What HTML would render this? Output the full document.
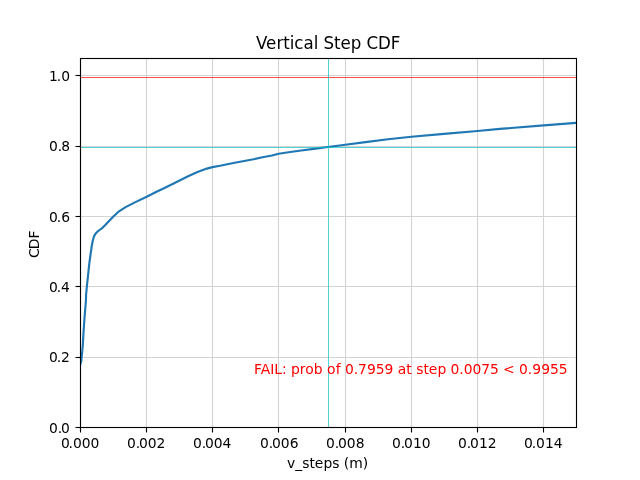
<!DOCTYPE html>
<html lang="en"><head><meta charset="utf-8"><title>Vertical Step CDF</title>
<style>html,body{margin:0;padding:0;background:#fff;width:640px;height:480px;overflow:hidden}svg{display:block;will-change:transform}text{font-family:'DejaVu Sans','Liberation Sans',sans-serif;font-size:13.8889px;fill:#000;white-space:pre}</style></head><body>
<svg width="640" height="480" viewBox="0 0 640 480">
<rect x="0" y="0" width="640" height="480" fill="#ffffff"/>
<defs><clipPath id="ax"><rect x="80.00" y="57.60" width="496.00" height="369.60"/></clipPath></defs>
<g stroke="#d3d3d3" stroke-width="1.111" fill="none">
<line x1="80.5" y1="58.0" x2="80.5" y2="427.0"/>
<line x1="146.5" y1="58.0" x2="146.5" y2="427.0"/>
<line x1="212.5" y1="58.0" x2="212.5" y2="427.0"/>
<line x1="278.5" y1="58.0" x2="278.5" y2="427.0"/>
<line x1="345.5" y1="58.0" x2="345.5" y2="427.0"/>
<line x1="411.5" y1="58.0" x2="411.5" y2="427.0"/>
<line x1="477.5" y1="58.0" x2="477.5" y2="427.0"/>
<line x1="543.5" y1="58.0" x2="543.5" y2="427.0"/>
<line x1="80.0" y1="427.5" x2="577.0" y2="427.5"/>
<line x1="80.0" y1="357.5" x2="577.0" y2="357.5"/>
<line x1="80.0" y1="286.5" x2="577.0" y2="286.5"/>
<line x1="80.0" y1="216.5" x2="577.0" y2="216.5"/>
<line x1="80.0" y1="146.5" x2="577.0" y2="146.5"/>
<line x1="80.0" y1="75.5" x2="577.0" y2="75.5"/>
</g>
<g stroke="#000" stroke-width="1.111" fill="none">
<line x1="80.5" y1="428" x2="80.5" y2="432.5"/>
<line x1="146.5" y1="428" x2="146.5" y2="432.5"/>
<line x1="212.5" y1="428" x2="212.5" y2="432.5"/>
<line x1="278.5" y1="428" x2="278.5" y2="432.5"/>
<line x1="345.5" y1="428" x2="345.5" y2="432.5"/>
<line x1="411.5" y1="428" x2="411.5" y2="432.5"/>
<line x1="477.5" y1="428" x2="477.5" y2="432.5"/>
<line x1="543.5" y1="428" x2="543.5" y2="432.5"/>
<line x1="75.5" y1="427.5" x2="80" y2="427.5"/>
<line x1="75.5" y1="357.5" x2="80" y2="357.5"/>
<line x1="75.5" y1="286.5" x2="80" y2="286.5"/>
<line x1="75.5" y1="216.5" x2="80" y2="216.5"/>
<line x1="75.5" y1="146.5" x2="80" y2="146.5"/>
<line x1="75.5" y1="75.5" x2="80" y2="75.5"/>
</g>
<g clip-path="url(#ax)" fill="none">
<polyline stroke="#1f77b4" stroke-width="2.150" stroke-linejoin="round" stroke-linecap="square" points="80.00,365.50 81.30,361.00 82.00,354.00 82.80,345.50 83.30,336.00 83.80,328.00 84.30,321.00 84.90,313.00 85.50,306.00 85.90,301.00 86.10,294.75 86.90,286.00 88.00,276.00 88.70,269.00 89.50,262.00 90.60,254.00 91.75,246.00 92.75,240.75 94.00,236.40 95.60,233.60 97.40,231.70 100.25,229.50 102.75,227.60 105.25,225.10 108.10,222.00 113.40,216.50 119.00,211.30 125.60,207.10 134.90,202.40 146.70,196.80 156.50,191.70 164.00,188.30 174.10,183.30 188.10,176.30 197.50,172.10 206.90,168.60 212.50,167.10 220.00,165.80 234.75,162.70 253.50,159.30 262.50,157.30 272.00,155.50 278.60,153.80 290.30,152.00 301.25,150.50 313.75,148.90 328.00,147.04 345.30,144.70 365.50,142.10 388.00,139.20 411.50,136.75 444.00,133.90 477.50,131.00 500.00,128.90 543.75,125.40 576.00,122.90 600.00,121.50"/>
</g>
<g fill="none" stroke-width="0.694">
<line stroke="#ff0000" x1="80" x2="577" y1="77.5" y2="77.5"/>
<line stroke="#00bfbf" x1="80" x2="577" y1="147.5" y2="147.5"/>
<line stroke="#00bfbf" x1="328.5" x2="328.5" y1="58" y2="427"/>
</g>
<rect x="80.5" y="58.5" width="496" height="369" fill="none" stroke="#000" stroke-width="1.111"/>
<text id="xt0" transform="translate(79.75,447.61)" x="-18.87 -11.30 -6.88 1.95 10.77" y="0">0.000</text>
<text id="xt1" transform="translate(145.63,447.61)" x="-18.62 -9.80 -6.63 2.07 10.90" y="0">0.002</text>
<text id="xt2" transform="translate(211.52,447.61)" x="-18.62 -9.80 -6.63 2.32 11.02" y="0">0.004</text>
<text id="xt3" transform="translate(278.65,447.61)" x="-18.62 -9.80 -6.63 2.20 11.02" y="0">0.006</text>
<text id="xt4" transform="translate(344.78,447.61)" x="-18.87 -10.05 -6.88 1.95 11.02" y="0">0.008</text>
<text id="xt5" transform="translate(410.67,447.61)" x="-18.62 -9.80 -6.63 2.32 11.15" y="0">0.010</text>
<text id="xt6" transform="translate(476.80,447.61)" x="-18.87 -10.05 -6.88 2.20 11.02" y="0">0.012</text>
<text id="xt7" transform="translate(542.68,447.61)" x="-18.62 -11.05 -6.63 2.32 11.15" y="0">0.014</text>
<text id="yt0" transform="translate(70.03,432.60)" x="-21.08 -12.27 -9.09" y="0">0.0</text>
<text id="yt1" transform="translate(70.78,361.58)" x="-21.83 -14.02 -9.84" y="0">0.2</text>
<text id="yt2" transform="translate(70.78,291.55)" x="-21.83 -14.02 -9.84" y="0">0.4</text>
<text id="yt3" transform="translate(70.78,221.53)" x="-21.83 -14.02 -9.59" y="0">0.6</text>
<text id="yt4" transform="translate(70.03,150.50)" x="-21.08 -12.27 -8.84" y="0">0.8</text>
<text id="yt5" transform="translate(70.03,80.60)" x="-21.08 -13.27 -8.72" y="0">1.0</text>
<text id="xl" transform="translate(327.50,467.58)" x="-40.58 -32.38 -25.19 -17.95 -12.77 -3.98 4.83 11.80 16.34 21.75 35.27" y="0">v_steps (m)</text>
<text id="yl" transform="translate(38.50,244.65) rotate(-90)" x="-13.43 -4.49 6.18" y="0">CDF</text>
<text id="ti" transform="translate(328.25,48.52) scale(1,1.075)" x="-72.23 -62.13 -51.75 -45.03 -38.62 -33.99 -24.84 -14.49 -10.12 -4.82 5.76 12.29 22.54 33.12 38.15 49.79 62.62" y="0" style="font-size:16.6667px">Vertical Step CDF</text>
<text id="fa" transform="translate(253.20,373.55)" x="0.75 7.45 16.94 21.03 28.77 32.69 37.84 46.66 52.06 60.55 68.59 73.77 82.50 86.39 91.80 100.62 104.78 113.86 122.44 131.27 139.34 144.50 153.00 157.70 163.11 170.34 175.53 184.31 192.12 197.41 206.11 210.52 219.34 228.17 236.75 245.08 249.73 261.11 265.78 274.61 279.02 288.09 296.92 305.50" y="0" style="fill:#ff0000">FAIL: prob of 0.7959 at step 0.0075 &lt; 0.9955</text>
</svg></body></html>
